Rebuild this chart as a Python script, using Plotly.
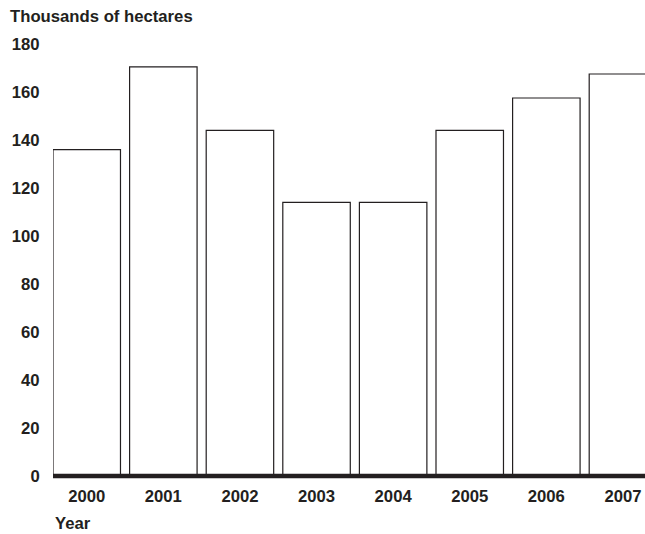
import plotly.graph_objects as go

years = ["2000", "2001", "2002", "2003", "2004", "2005", "2006", "2007"]
hectares = [136, 170.5, 144, 114, 114, 144, 157.5, 167.5]
y_ticks = [0, 20, 40, 60, 80, 100, 120, 140, 160, 180]

INK = "#231f20"
FONT = "Liberation Sans, Arial, sans-serif"
FS = 16.7

fig = go.Figure()
fig.add_trace(go.Bar(
    x=list(range(len(years))), y=hectares,
    marker=dict(color="white", line=dict(color=INK, width=1.2)),
    width=0.881,
))

fig.update_layout(
    width=645, height=534,
    margin=dict(l=53, r=0, t=44, b=57.5, pad=0),
    paper_bgcolor="white", plot_bgcolor="white",
    showlegend=False,
    font=dict(family=FONT, size=FS, color=INK),
    xaxis=dict(
        range=[-0.4405, 7.288],
        tickmode="array", tickvals=list(range(len(years))),
        ticktext=[f"<b>{y}</b>" for y in years],
        showgrid=False, zeroline=False, showline=False,
        ticks="outside", ticklen=5, tickcolor="rgba(0,0,0,0)",
        tickfont=dict(family=FONT, size=FS, color=INK),
    ),
    yaxis=dict(
        range=[0, 180],
        tickmode="array", tickvals=y_ticks,
        ticktext=[f"<b>{v}</b>" for v in y_ticks],
        showgrid=False, zeroline=False, showline=False,
        ticks="outside", ticklen=9, tickcolor="rgba(0,0,0,0)",
        tickfont=dict(family=FONT, size=FS, color=INK),
    ),
    shapes=[dict(
        type="line", xref="paper", yref="paper",
        x0=0, x1=1.02, y0=0, y1=0,
        line=dict(color=INK, width=4.5), layer="above",
    )],
    annotations=[
        dict(text="<b>Thousands of hectares</b>", xref="paper", yref="paper",
             x=-0.076, y=1.0647, xanchor="left", yanchor="middle",
             showarrow=False, font=dict(family=FONT, size=FS, color=INK)),
        dict(text="<b>Year</b>", xref="paper", yref="paper",
             x=0, y=-0.11, xanchor="left", yanchor="middle",
             showarrow=False, font=dict(family=FONT, size=FS, color=INK)),
    ],
)

fig.write_html(
    "out.html",
    config={"displayModeBar": False},
    post_script="document.body.style.margin='0';document.body.style.overflow='hidden';",
)
